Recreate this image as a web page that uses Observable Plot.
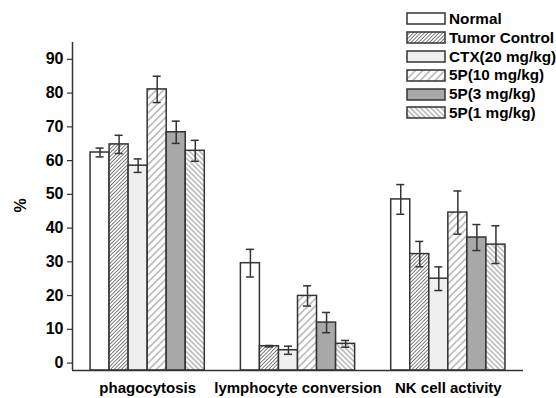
<!DOCTYPE html>
<html><head><meta charset="utf-8">
<script src="https://cdn.jsdelivr.net/npm/d3@7"></script>
<script src="https://cdn.jsdelivr.net/npm/@observablehq/plot@0.6"></script>
<style>
body{margin:0;background:#fff;}
#wrap{position:relative;width:556px;height:398px;font-family:"Liberation Sans",Arial,sans-serif;}
#legend{position:absolute;left:406px;top:9.6px;}
.item{display:flex;align-items:center;height:18.8px;font-weight:bold;font-size:15.3px;color:#000;white-space:nowrap;}
.item svg{margin-right:3px;display:block;}
</style></head><body>
<svg width="0" height="0" style="position:absolute">
<defs>
<pattern id="hTumor" patternUnits="userSpaceOnUse" width="2.6" height="2.6" patternTransform="rotate(45)">
<rect width="2.6" height="2.6" fill="#fff"/><line x1="1.3" y1="0" x2="1.3" y2="2.6" stroke="#6e6e6e" stroke-width="0.9"/>
</pattern>
<pattern id="h5P10" patternUnits="userSpaceOnUse" width="5.2" height="5.2" patternTransform="rotate(45)">
<rect width="5.2" height="5.2" fill="#fff"/><line x1="2.6" y1="0" x2="2.6" y2="5.2" stroke="#707070" stroke-width="0.8"/>
</pattern>
<pattern id="h5P1" patternUnits="userSpaceOnUse" width="3.6" height="3.6" patternTransform="rotate(-45)">
<rect width="3.6" height="3.6" fill="#fff"/><line x1="1.8" y1="0" x2="1.8" y2="3.6" stroke="#707070" stroke-width="0.8"/>
</pattern>
</defs>
</svg>
<div id="wrap"><div id="chart"></div><div id="legend"></div></div>
<script>
const categories = ["phagocytosis", "lymphocyte conversion", "NK cell activity"];
const series = ["Normal", "Tumor Control", "CTX(20 mg/kg)", "5P(10 mg/kg)", "5P(3 mg/kg)", "5P(1 mg/kg)"];
const normal       = [62.4, 29.6, 48.5];
const tumorControl = [64.8, 5.0, 32.3];
const ctx20        = [58.5, 3.8, 25.0];
const p5_10        = [81.1, 19.9, 44.6];
const p5_3         = [68.4, 12.0, 37.2];
const p5_1         = [62.9, 5.7, 35.1];
const normalErr       = [1.3, 4.1, 4.4];
const tumorControlErr = [2.7, 0.2, 3.75];
const ctx20Err        = [2.0, 1.2, 3.5];
const p5_10Err        = [3.9, 3.0, 6.4];
const p5_3Err         = [3.3, 3.0, 3.85];
const p5_1Err         = [3.1, 1.0, 5.6];
const yTicks = [0, 10, 20, 30, 40, 50, 60, 70, 80, 90];
const yLabel = "%";
const yDomain = [-2.2, 95];

const seriesValues = [normal, tumorControl, ctx20, p5_10, p5_3, p5_1];
const seriesErrors = [normalErr, tumorControlErr, ctx20Err, p5_10Err, p5_3Err, p5_1Err];
const fills = {
  "Normal": "#ffffff",
  "Tumor Control": "url(#hTumor)",
  "CTX(20 mg/kg)": "#efefef",
  "5P(10 mg/kg)": "url(#h5P10)",
  "5P(3 mg/kg)": "#a8a8a8",
  "5P(1 mg/kg)": "url(#h5P1)"
};

// group layout in data units (x scale is linear over [0, categories.length])
const outer = d3.scaleBand().domain(categories).range([0, categories.length]).paddingInner(0.24).paddingOuter(0.12);
const inner = d3.scaleBand().domain(series).range([0, outer.bandwidth()]);

const rows = [];
series.forEach((s, j) => categories.forEach((c, i) => {
  const x1 = outer(c) + inner(s);
  const x2 = x1 + inner.bandwidth();
  rows.push({category: c, series: s, value: seriesValues[j][i], err: seriesErrors[j][i], x1, x2, xm: (x1 + x2) / 2});
}));
const catCenters = categories.map(c => outer(c) + outer.bandwidth() / 2);
const catLabel = new Map(catCenters.map((v, i) => [v, categories[i]]));

const ink = "#333";
const plot = Plot.plot({
  width: 556, height: 398,
  marginLeft: 72, marginRight: 33, marginTop: 42, marginBottom: 28,
  style: {fontFamily: "'Liberation Sans', Arial, sans-serif", background: "#fff", color: "#000"},
  x: {type: "linear", domain: [0, categories.length], axis: null},
  y: {domain: yDomain, axis: null},
  marks: [
    ...series.map(s => Plot.rect(rows.filter(r => r.series === s), {
      x1: "x1", x2: "x2", y1: () => yDomain[0], y2: "value",
      fill: fills[s], stroke: ink, strokeWidth: 1.5
    })),
    Plot.ruleX(rows, {x: "xm", y1: d => d.value - d.err, y2: d => d.value + d.err, stroke: ink, strokeWidth: 1.5}),
    Plot.ruleY(rows, {y: d => d.value + d.err, x1: "xm", x2: "xm", insetLeft: -4, insetRight: -4, stroke: ink, strokeWidth: 1.5}),
    Plot.ruleY(rows, {y: d => d.value - d.err, x1: "xm", x2: "xm", insetLeft: -4, insetRight: -4, stroke: ink, strokeWidth: 1.5}),
    Plot.ruleY([yDomain[0]], {stroke: ink, strokeWidth: 1.5}),
    Plot.ruleX([0], {stroke: ink, strokeWidth: 1.5}),
    Plot.axisY(yTicks, {
      tickSize: 5, tickPadding: 4, fontSize: 16, fontWeight: "bold", stroke: ink, strokeWidth: 1.2, fill: "#000",
      label: null
    }),
    Plot.text([yLabel], {
      text: d => d, frameAnchor: "left", dx: -52, dy: 6, rotate: -90,
      fontSize: 16, fontWeight: "bold", fill: "#000"
    }),
    Plot.axisX(catCenters, {
      tickSize: 0, tickPadding: 12, fontSize: 15, fontWeight: "bold", fill: "#000",
      tickFormat: d => catLabel.get(d), label: null
    })
  ]
});
document.getElementById("chart").appendChild(plot);

const legend = document.getElementById("legend");
series.forEach(s => {
  const item = document.createElement("div");
  item.className = "item";
  item.innerHTML = `<svg width="40" height="13"><rect x="1" y="1" width="38" height="11" fill="${fills[s]}" stroke="${ink}" stroke-width="1.5"/></svg><span>${s}</span>`;
  legend.appendChild(item);
});
</script>
</body></html>
